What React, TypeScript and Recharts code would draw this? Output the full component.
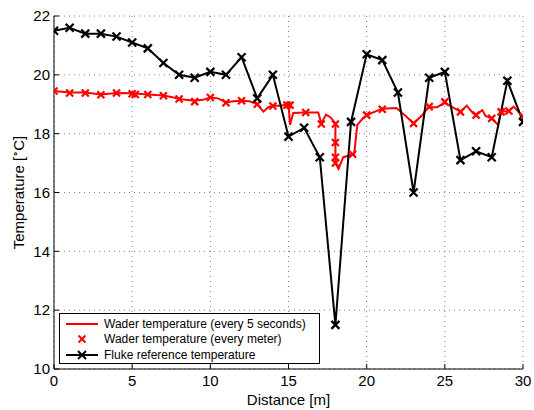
import React from 'react';
import { LineChart, Line, XAxis, YAxis, CartesianGrid } from 'recharts';

const xTicks = [0, 5, 10, 15, 20, 25, 30];
const yTicks = [10, 12, 14, 16, 18, 20, 22];

const flukeDistance = [0, 1, 2, 3, 4, 5, 6, 7, 8, 9, 10, 11, 12, 13, 14, 15, 16, 17, 18, 19, 20, 21, 22, 23, 24, 25, 26, 27, 28, 29, 30];
const flukeTemp = [21.5, 21.6, 21.4, 21.4, 21.3, 21.1, 20.9, 20.4, 20.0, 19.9, 20.1, 20.0, 20.6, 19.2, 20.0, 17.9, 18.2, 17.2, 11.5, 18.4, 20.7, 20.5, 19.4, 16.0, 19.9, 20.1, 17.1, 17.4, 17.2, 19.8, 18.4];

const waderLineDistance = [0, 1, 2, 3, 4, 5, 6, 7, 7.5, 8, 9, 9.5, 10, 10.5, 11, 11.5, 12, 12.5, 13, 13.4, 13.7, 14, 14.5, 15, 15.1, 15.3, 16, 16.9, 17.1, 17.4, 17.7, 18.0, 18.0, 18.2, 18.5, 19.2, 19.4, 19.8, 20.3, 21, 21.9, 22.5, 23, 23.5, 23.8, 24, 24.5, 25, 25.3, 26, 26.4, 26.8, 27, 27.4, 27.6, 28, 28.4, 28.6, 29.1, 29.4, 30];
const waderLineTemp = [19.45, 19.4, 19.4, 19.33, 19.38, 19.37, 19.33, 19.3, 19.25, 19.18, 19.12, 19.15, 19.23, 19.2, 19.06, 19.1, 19.12, 19.1, 19.0, 18.75, 18.9, 18.95, 18.95, 19.0, 18.3, 18.7, 18.72, 18.72, 18.35, 18.65, 18.55, 18.35, 17.0, 16.8, 17.2, 17.3, 18.3, 18.55, 18.7, 18.85, 18.87, 18.6, 18.35, 18.6, 18.8, 18.9, 18.9, 19.05, 18.95, 18.75, 18.95, 18.7, 18.65, 18.8, 18.6, 18.52, 18.3, 18.75, 18.77, 18.92, 18.58];

const waderMeterDistance = [0, 1, 2, 3, 4, 5, 5.2, 6, 7, 8, 9, 10, 11, 12, 13, 14, 14.9, 15.1, 16.1, 17.1, 18.0, 18.0, 18.0, 18.0, 19.1, 20, 21, 23, 24, 25, 26, 27, 28, 28.6, 29.1, 30];
const waderMeterTemp = [19.45, 19.38, 19.38, 19.32, 19.38, 19.36, 19.33, 19.33, 19.29, 19.18, 19.09, 19.23, 19.05, 19.12, 19.0, 18.94, 18.97, 18.97, 18.72, 18.33, 18.33, 17.7, 17.2, 17.0, 17.3, 18.63, 18.83, 18.35, 18.92, 19.08, 18.74, 18.63, 18.52, 18.74, 18.77, 18.58];

const legendLabels = [
  'Wader temperature (every 5 seconds)',
  'Wader temperature (every meter)',
  'Fluke reference temperature',
];

const flukeData = flukeDistance.map((d, i) => ({ d, t: flukeTemp[i] }));
const waderLineData = waderLineDistance.map((d, i) => ({ d, t: waderLineTemp[i] }));
const waderMeterData = waderMeterDistance.map((d, i) => ({ d, t: waderMeterTemp[i] }));

const FONT = 'Liberation Sans, Arial, Helvetica, sans-serif';

const makeX = (color: string, h: number, w: number) => (props: any) => {
  const { cx, cy, index } = props;
  if (cx == null || cy == null) return <g key={index} />;
  return (
    <g key={`x-${index}`}>
      <line x1={cx - h} y1={cy - h} x2={cx + h} y2={cy + h} stroke={color} strokeWidth={w} />
      <line x1={cx - h} y1={cy + h} x2={cx + h} y2={cy - h} stroke={color} strokeWidth={w} />
    </g>
  );
};

const redX = makeX('#ff0000', 3.5, 2.2);
const blackX = makeX('#000000', 4, 2.2);

const LegendBox = () => (
  <div
    style={{
      position: 'absolute',
      left: 59,
      top: 313,
      border: '1px solid #000',
      background: '#fff',
      width: 259,
      height: 49,
      boxSizing: 'content-box',
      fontFamily: FONT,
      fontSize: 12,
      color: '#000',
    }}
  >
    {legendLabels.map((label, i) => (
      <div key={label} style={{ display: 'flex', alignItems: 'center', height: 15.5, marginTop: i === 0 ? 2 : 0 }}>
        <svg width={44} height={14} style={{ display: 'block' }}>
          {i === 0 && <line x1={6} y1={7} x2={38} y2={7} stroke="#ff0000" strokeWidth={2} />}
          {i === 1 && (
            <g>
              <line x1={18.5} y1={3.5} x2={25.5} y2={10.5} stroke="#ff0000" strokeWidth={2} />
              <line x1={18.5} y1={10.5} x2={25.5} y2={3.5} stroke="#ff0000" strokeWidth={2} />
            </g>
          )}
          {i === 2 && (
            <g>
              <line x1={6} y1={7} x2={38} y2={7} stroke="#000" strokeWidth={2} />
              <line x1={18} y1={3} x2={26} y2={11} stroke="#000" strokeWidth={2} />
              <line x1={18} y1={11} x2={26} y2={3} stroke="#000" strokeWidth={2} />
            </g>
          )}
        </svg>
        <span style={{ whiteSpace: 'nowrap' }}>{label}</span>
      </div>
    ))}
  </div>
);

export default function App() {
  return (
    <div style={{ position: 'absolute', left: 0, top: 0, width: 534, height: 410, background: '#fff' }}>
      <LineChart width={534} height={410} margin={{ top: 16, right: 11, left: 0, bottom: 0 }}>
        <CartesianGrid stroke="#808080" strokeDasharray="1 4" />
        <XAxis
          dataKey="d"
          type="number"
          domain={[0, 30]}
          ticks={xTicks}
          height={41}
          allowDataOverflow
          stroke="#000"
          tickSize={-5}
          tickMargin={11}
          tick={{ fill: '#000', fontSize: 15, fontFamily: FONT }}
          axisLine={{ stroke: '#000', strokeWidth: 1 }}
          label={{ value: 'Distance [m]', position: 'insideBottom', offset: 5, fill: '#000', fontSize: 15, fontFamily: FONT }}
        />
        <YAxis
          dataKey="t"
          type="number"
          domain={[10, 22]}
          ticks={yTicks}
          width={54}
          allowDataOverflow
          stroke="#000"
          tickSize={-5}
          tickMargin={9}
          tick={{ fill: '#000', fontSize: 15, fontFamily: FONT }}
          axisLine={{ stroke: '#000', strokeWidth: 1 }}
          label={(props: any) => {
            const vb = props.viewBox || {};
            const cy = (vb.y || 16) + (vb.height || 353) / 2;
            return (
              <text
                x={24}
                y={cy}
                transform={`rotate(-90, 24, ${cy})`}
                textAnchor="middle"
                fontSize={15}
                fontFamily={FONT}
                fill="#000"
              >
                Temperature [
                <tspan fontSize={10} dy={-6}>∘</tspan>
                <tspan dy={6}>C]</tspan>
              </text>
            );
          }}
        />
        <Line
          data={waderLineData}
          dataKey="t"
          stroke="#ff0000"
          strokeWidth={2}
          dot={false}
          activeDot={false}
          isAnimationActive={false}
          type="linear"
        />
        <Line
          data={waderMeterData}
          dataKey="t"
          stroke="none"
          strokeWidth={0}
          dot={redX}
          activeDot={false}
          isAnimationActive={false}
          type="linear"
        />
        <Line
          data={flukeData}
          dataKey="t"
          stroke="#000"
          strokeWidth={2}
          dot={blackX}
          activeDot={false}
          isAnimationActive={false}
          type="linear"
        />
      </LineChart>
      <LegendBox />
    </div>
  );
}
